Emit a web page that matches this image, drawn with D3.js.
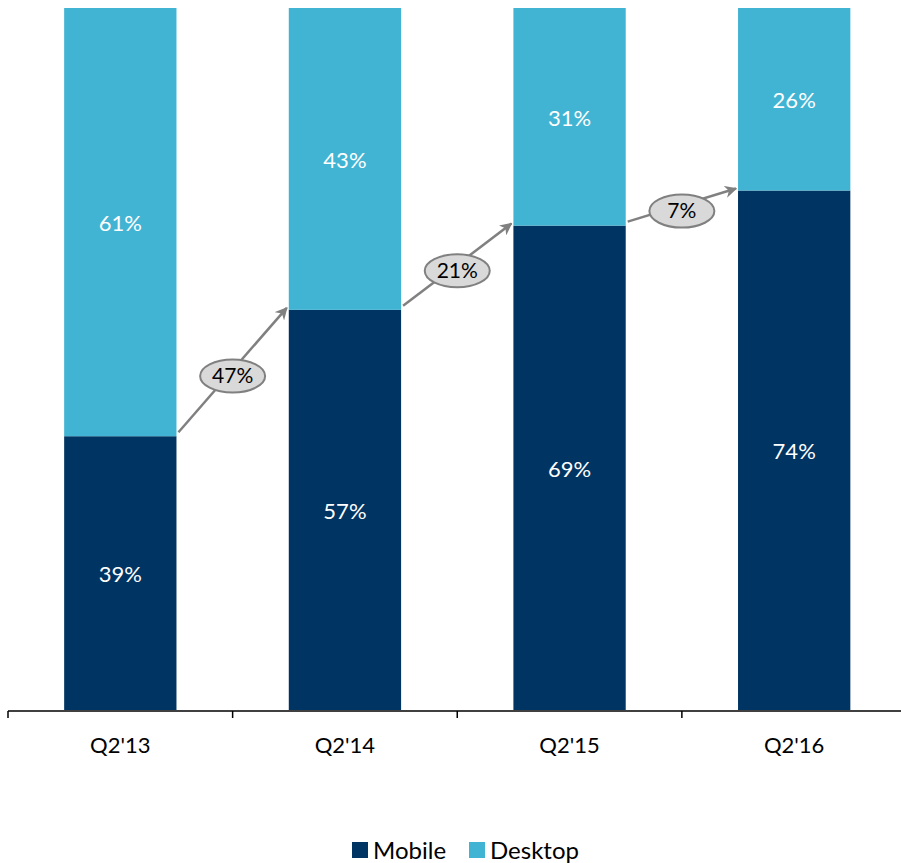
<!DOCTYPE html>
<html>
<head>
<meta charset="utf-8">
<script src="https://cdn.jsdelivr.net/npm/d3@7"></script>
<style>
  html, body { margin: 0; padding: 0; background: #fff; }
  svg { display: block; font-family: Lato, "Open Sans", sans-serif; }
</style>
</head>
<body>
<svg id="chart" width="901" height="863"></svg>
<script>
// Share of traffic by device, per quarter
const quarters = ["Q2'13", "Q2'14", "Q2'15", "Q2'16"];
const mobile = [39, 57, 69, 74];
const desktop = [61, 43, 31, 26];
// Year-over-year growth of the mobile share
const growth = ["47%", "21%", "7%"];
const seriesNames = ["Mobile", "Desktop"];
const colors = { Mobile: "#003462", Desktop: "#41B4D3" };

const svg = d3.select("#chart");
const baseY = 710, topY = 8;

const x = d3.scaleBand().domain(quarters).range([8, 906.5]).paddingInner(0.5).paddingOuter(0.25);
const y = d3.scaleLinear().domain([0, 100]).range([baseY, topY]);

const rows = quarters.map((q, i) => ({ q, Mobile: mobile[i], Desktop: desktop[i] }));
const stacked = d3.stack().keys(seriesNames)(rows);

const layers = svg.append("g").selectAll("g").data(stacked).join("g")
  .attr("fill", d => colors[d.key]);

layers.selectAll("rect").data(d => d).join("rect")
  .attr("x", d => x(d.data.q))
  .attr("width", x.bandwidth())
  .attr("y", d => y(d[1]))
  .attr("height", d => y(d[0]) - y(d[1]));

// Percent labels inside each segment
layers.selectAll("text").data(d => d.map(v => ({ v, key: d.key }))).join("text")
  .attr("x", d => x(d.v.data.q) + x.bandwidth() / 2)
  .attr("y", d => (y(d.v[0]) + y(d.v[1])) / 2 + 1)
  .attr("dy", "0.35em")
  .attr("text-anchor", "middle")
  .attr("fill", "#fff")
  .attr("font-size", 22)
  .text(d => d.v.data[d.key] + "%");

// Category axis with ticks between groups
const axisG = svg.append("g").attr("transform", `translate(0,${baseY + 1})`);
axisG.append("line").attr("x1", 8).attr("x2", 901).attr("stroke", "#000").attr("stroke-width", 1.5);
const boundaries = d3.range(quarters.length + 1).map(i => 8 + i * x.step());
axisG.selectAll("line.tick").data(boundaries).join("line")
  .attr("class", "tick")
  .attr("x1", d => d).attr("x2", d => d)
  .attr("y1", 0).attr("y2", 7)
  .attr("stroke", "#000").attr("stroke-width", 1.5);
axisG.selectAll("text").data(quarters).join("text")
  .attr("x", d => x(d) + x.bandwidth() / 2)
  .attr("y", 34)
  .attr("dy", "0.35em")
  .attr("text-anchor", "middle")
  .attr("fill", "#000")
  .attr("font-size", 22)
  .text(d => d);

// Growth arrows between consecutive mobile bar tops
const defs = svg.append("defs");
defs.append("marker")
  .attr("id", "arrowhead")
  .attr("viewBox", "0 0 10 10")
  .attr("refX", 9).attr("refY", 5)
  .attr("markerWidth", 5).attr("markerHeight", 5)
  .attr("markerUnits", "strokeWidth")
  .attr("orient", "auto")
  .append("path").attr("d", "M0,0 L10,5 L0,10 L3,5 Z").attr("fill", "#808080");

const arrows = growth.map((g, i) => {
  const x1 = x(quarters[i]) + x.bandwidth() + 2;
  const y1 = y(mobile[i]) - 4;
  const x2 = x(quarters[i + 1]) - 2;
  const y2 = y(mobile[i + 1]) - 2;
  const cx = boundaries[i + 1];
  const cy = y1 + (y2 - y1) * (cx - x1) / (x2 - x1) + 6;
  return { g, x1, y1, x2, y2, cx, cy };
});

const ag = svg.append("g");
ag.selectAll("line").data(arrows).join("line")
  .attr("x1", d => d.x1).attr("y1", d => d.y1)
  .attr("x2", d => d.x2).attr("y2", d => d.y2)
  .attr("stroke", "#808080").attr("stroke-width", 2.5)
  .attr("marker-end", "url(#arrowhead)");
ag.selectAll("ellipse").data(arrows).join("ellipse")
  .attr("cx", d => d.cx).attr("cy", d => d.cy)
  .attr("rx", 32.5).attr("ry", 16.5)
  .attr("fill", "#D9D9D9").attr("stroke", "#808080").attr("stroke-width", 2);
ag.selectAll("text").data(arrows).join("text")
  .attr("x", d => d.cx).attr("y", d => d.cy)
  .attr("dy", "0.35em")
  .attr("text-anchor", "middle")
  .attr("fill", "#000")
  .attr("font-size", 21)
  .text(d => d.g);

// Legend
const legend = svg.append("g").attr("transform", "translate(352,842)");
const legendX = [0, 117];
const li = legend.selectAll("g").data(seriesNames).join("g")
  .attr("transform", (d, i) => `translate(${legendX[i]},0)`);
li.append("rect").attr("width", 16).attr("height", 16).attr("fill", d => colors[d]);
li.append("text").attr("x", 21).attr("y", 8).attr("dy", "0.38em")
  .attr("font-size", 24).attr("fill", "#000").text(d => d);
</script>
</body>
</html>
